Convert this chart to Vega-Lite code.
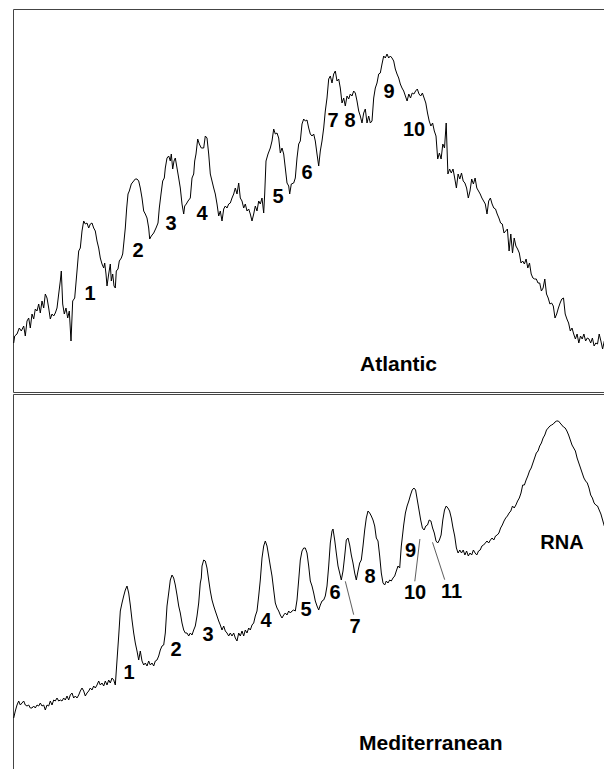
{
  "$schema": "https://vega.github.io/schema/vega-lite/v6.json",
  "padding": {"left": 11, "top": 8, "right": 0, "bottom": 0},
  "spacing": 0,
  "background": "white",
  "config": {
    "view": {"stroke": "#444444", "strokeWidth": 1},
    "concat": {"spacing": 0},
    "text": {"font": "Liberation Sans", "fontWeight": "bold", "fontSize": 20, "color": "#000000"}
  },
  "datasets": {
    "atlantic": [
      {"pos":0.7,"abs":49},{"pos":1.7,"abs":56},{"pos":4,"abs":58},{"pos":6.3,"abs":64},{"pos":8.3,"abs":61},{"pos":10.7,"abs":66},{"pos":12.3,"abs":56},{"pos":14,"abs":71},{"pos":15.7,"abs":74},{"pos":17.3,"abs":64},{"pos":19,"abs":78},{"pos":20.7,"abs":73},{"pos":22.3,"abs":83},{"pos":24,"abs":81},{"pos":25.7,"abs":88},{"pos":27.3,"abs":79},{"pos":29,"abs":91},{"pos":30.7,"abs":84},{"pos":32.3,"abs":98},{"pos":34,"abs":94},{"pos":35.7,"abs":84},{"pos":37.3,"abs":73},{"pos":39,"abs":78},{"pos":40.7,"abs":76},{"pos":42.3,"abs":79},{"pos":44,"abs":84},{"pos":45.7,"abs":98},{"pos":47.3,"abs":111},{"pos":48.3,"abs":121},{"pos":49.7,"abs":88},{"pos":51.3,"abs":78},{"pos":53,"abs":84},{"pos":54.7,"abs":74},{"pos":56.3,"abs":81},{"pos":58,"abs":51},{"pos":59.7,"abs":91},{"pos":61.7,"abs":94},{"pos":64,"abs":121},{"pos":65.7,"abs":141},{"pos":67.3,"abs":144},{"pos":69,"abs":161},{"pos":70.7,"abs":171},{"pos":72.3,"abs":168},{"pos":74,"abs":169},{"pos":75.7,"abs":164},{"pos":77.3,"abs":168},{"pos":79,"abs":169},{"pos":80.7,"abs":164},{"pos":82.3,"abs":161},{"pos":84,"abs":151},{"pos":85.7,"abs":144},{"pos":87.3,"abs":134},{"pos":89,"abs":128},{"pos":90.7,"abs":124},{"pos":91.7,"abs":129},{"pos":93,"abs":118},{"pos":94,"abs":106},{"pos":95.7,"abs":118},{"pos":97.3,"abs":128},{"pos":98.3,"abs":111},{"pos":99.7,"abs":118},{"pos":101,"abs":106},{"pos":102.3,"abs":104},{"pos":103.3,"abs":121},{"pos":105,"abs":123},{"pos":106.3,"abs":131},{"pos":108.3,"abs":134},{"pos":109.7,"abs":138},{"pos":111,"abs":151},{"pos":112.3,"abs":164},{"pos":113.7,"abs":184},{"pos":115,"abs":198},{"pos":116.3,"abs":201},{"pos":118.3,"abs":208},{"pos":120.7,"abs":211},{"pos":122.3,"abs":213},{"pos":124,"abs":213},{"pos":125.7,"abs":211},{"pos":127.3,"abs":204},{"pos":129,"abs":194},{"pos":130.7,"abs":181},{"pos":132.3,"abs":178},{"pos":134,"abs":174},{"pos":135.7,"abs":164},{"pos":136.7,"abs":153},{"pos":138.3,"abs":156},{"pos":140.7,"abs":159},{"pos":143,"abs":164},{"pos":145,"abs":169},{"pos":146.3,"abs":184},{"pos":148,"abs":198},{"pos":149.7,"abs":211},{"pos":151.3,"abs":214},{"pos":152.3,"abs":224},{"pos":154,"abs":234},{"pos":155.7,"abs":236},{"pos":157.3,"abs":231},{"pos":158.3,"abs":238},{"pos":159.7,"abs":223},{"pos":161,"abs":231},{"pos":162.3,"abs":234},{"pos":164,"abs":224},{"pos":165.7,"abs":214},{"pos":167.3,"abs":204},{"pos":169,"abs":188},{"pos":170.7,"abs":178},{"pos":171.7,"abs":186},{"pos":173.3,"abs":188},{"pos":175,"abs":191},{"pos":177.3,"abs":194},{"pos":179,"abs":214},{"pos":180.7,"abs":218},{"pos":181.7,"abs":231},{"pos":183,"abs":238},{"pos":184.7,"abs":253},{"pos":186.3,"abs":248},{"pos":188.3,"abs":244},
      {"pos":190.7,"abs":244},{"pos":192.3,"abs":256},{"pos":194,"abs":254},{"pos":195.7,"abs":238},{"pos":197.3,"abs":218},{"pos":199,"abs":211},{"pos":200.7,"abs":204},{"pos":202.3,"abs":198},{"pos":204,"abs":188},{"pos":205.7,"abs":176},{"pos":207.3,"abs":181},{"pos":209,"abs":171},{"pos":210.7,"abs":183},{"pos":212.3,"abs":186},{"pos":214,"abs":184},{"pos":215.7,"abs":188},{"pos":217.3,"abs":189},{"pos":219,"abs":194},{"pos":220.7,"abs":198},{"pos":222.3,"abs":204},{"pos":224,"abs":198},{"pos":225.7,"abs":209},{"pos":227.3,"abs":194},{"pos":229,"abs":191},{"pos":230.7,"abs":184},{"pos":232.3,"abs":188},{"pos":234,"abs":181},{"pos":235.7,"abs":183},{"pos":237.3,"abs":178},{"pos":239,"abs":171},{"pos":240.7,"abs":178},{"pos":242.3,"abs":186},{"pos":244,"abs":181},{"pos":245.7,"abs":191},{"pos":247.3,"abs":188},{"pos":249,"abs":194},{"pos":250.7,"abs":179},{"pos":251.7,"abs":198},{"pos":253,"abs":231},{"pos":255,"abs":238},{"pos":257.3,"abs":244},{"pos":259,"abs":251},{"pos":260.7,"abs":263},{"pos":262.3,"abs":258},{"pos":264,"abs":259},{"pos":265.7,"abs":254},{"pos":267.3,"abs":239},{"pos":269,"abs":244},{"pos":270.7,"abs":238},{"pos":272.3,"abs":224},{"pos":274,"abs":209},{"pos":275.7,"abs":206},{"pos":276.7,"abs":198},{"pos":278.3,"abs":208},{"pos":280.7,"abs":209},{"pos":282.3,"abs":214},{"pos":284,"abs":234},{"pos":285.7,"abs":248},{"pos":287.3,"abs":251},{"pos":289,"abs":268},{"pos":290.7,"abs":273},{"pos":292.3,"abs":271},{"pos":294,"abs":272},{"pos":295.7,"abs":264},{"pos":297.3,"abs":258},{"pos":299,"abs":256},{"pos":300.7,"abs":258},{"pos":302.3,"abs":251},{"pos":304,"abs":238},{"pos":305.7,"abs":226},{"pos":307.3,"abs":241},{"pos":309,"abs":251},{"pos":310.7,"abs":264},{"pos":312.3,"abs":281},{"pos":314,"abs":294},{"pos":315.7,"abs":313},{"pos":317.3,"abs":316},{"pos":319,"abs":309},{"pos":320.7,"abs":318},{"pos":322.3,"abs":321},{"pos":324,"abs":311},{"pos":325.7,"abs":313},{"pos":327.3,"abs":304},{"pos":329,"abs":289},{"pos":330.7,"abs":294},{"pos":332.3,"abs":286},{"pos":334,"abs":296},{"pos":335.7,"abs":293},{"pos":337.3,"abs":298},{"pos":339,"abs":296},{"pos":340.7,"abs":301},{"pos":342.3,"abs":299},{"pos":344,"abs":291},{"pos":345.7,"abs":281},{"pos":347.3,"abs":276},{"pos":349,"abs":269},{"pos":350.7,"abs":279},{"pos":352.3,"abs":283},{"pos":354,"abs":269},{"pos":355.7,"abs":276},{"pos":357.3,"abs":269},{"pos":359,"abs":271},{"pos":360.7,"abs":294},{"pos":362.3,"abs":304},{"pos":364,"abs":309},{"pos":365.7,"abs":318},{"pos":367.3,"abs":319},{"pos":369,"abs":328},{"pos":370.7,"abs":336},{"pos":372.3,"abs":334},{"pos":374,"abs":338},{"pos":375.7,"abs":334},{"pos":377.3,"abs":336},{"pos":379,"abs":334},{"pos":380.7,"abs":331},{"pos":382.3,"abs":323},{"pos":384,"abs":318},{"pos":385.7,"abs":314},{"pos":387.3,"abs":308},
      {"pos":389,"abs":304},{"pos":390.7,"abs":301},{"pos":392.4,"abs":296},{"pos":394.1,"abs":291},{"pos":395.8,"abs":298},{"pos":397.5,"abs":294},{"pos":399.2,"abs":299},{"pos":400.9,"abs":298},{"pos":402.6,"abs":301},{"pos":404.3,"abs":303},{"pos":406,"abs":298},{"pos":407.7,"abs":296},{"pos":409.4,"abs":299},{"pos":411.1,"abs":294},{"pos":412.8,"abs":289},{"pos":414.5,"abs":279},{"pos":416.2,"abs":271},{"pos":417.9,"abs":266},{"pos":419.6,"abs":269},{"pos":421.3,"abs":261},{"pos":423,"abs":256},{"pos":424.7,"abs":233},{"pos":426.4,"abs":239},{"pos":428.1,"abs":233},{"pos":429.8,"abs":248},{"pos":431.5,"abs":244},{"pos":433.2,"abs":269},{"pos":434.9,"abs":218},{"pos":436.6,"abs":223},{"pos":438.3,"abs":219},{"pos":440,"abs":223},{"pos":441.7,"abs":214},{"pos":443.4,"abs":204},{"pos":445.1,"abs":218},{"pos":446.8,"abs":213},{"pos":448.5,"abs":219},{"pos":450.2,"abs":211},{"pos":451.9,"abs":209},{"pos":453.6,"abs":204},{"pos":455.3,"abs":194},{"pos":457,"abs":201},{"pos":458.7,"abs":213},{"pos":460.4,"abs":208},{"pos":462.1,"abs":214},{"pos":463.8,"abs":204},{"pos":465.5,"abs":201},{"pos":467.2,"abs":198},{"pos":468.9,"abs":194},{"pos":470.6,"abs":191},{"pos":472.3,"abs":188},{"pos":474,"abs":178},{"pos":475.7,"abs":191},{"pos":477.4,"abs":194},{"pos":479.1,"abs":188},{"pos":480.8,"abs":184},{"pos":482.5,"abs":183},{"pos":484.2,"abs":178},{"pos":485.9,"abs":174},{"pos":487.6,"abs":169},{"pos":489.3,"abs":168},{"pos":491,"abs":159},{"pos":492.7,"abs":161},{"pos":494.4,"abs":163},{"pos":496.1,"abs":141},{"pos":497.8,"abs":158},{"pos":499.5,"abs":139},{"pos":501.2,"abs":154},{"pos":502.9,"abs":146},{"pos":504.6,"abs":143},{"pos":506.3,"abs":139},{"pos":508,"abs":129},{"pos":509.7,"abs":131},{"pos":511.4,"abs":128},{"pos":513.1,"abs":133},{"pos":514.8,"abs":124},{"pos":516.5,"abs":129},{"pos":518.2,"abs":118},{"pos":519.9,"abs":114},{"pos":521.6,"abs":113},{"pos":523.3,"abs":113},{"pos":525,"abs":109},{"pos":526.7,"abs":109},{"pos":528.4,"abs":101},{"pos":530.1,"abs":104},{"pos":531.8,"abs":113},{"pos":533.5,"abs":98},{"pos":535.2,"abs":94},{"pos":536.9,"abs":88},{"pos":538.6,"abs":89},{"pos":540.3,"abs":86},{"pos":542,"abs":74},{"pos":543.7,"abs":78},{"pos":545.4,"abs":84},{"pos":547.1,"abs":89},{"pos":548.8,"abs":93},{"pos":550.5,"abs":94},{"pos":552.2,"abs":78},{"pos":553.9,"abs":73},{"pos":555.6,"abs":69},{"pos":557.3,"abs":61},{"pos":559,"abs":64},{"pos":560.7,"abs":58},{"pos":562.4,"abs":53},{"pos":564.1,"abs":58},{"pos":565.8,"abs":49},{"pos":567.5,"abs":56},{"pos":569.2,"abs":53},{"pos":570.9,"abs":58},{"pos":572.6,"abs":51},{"pos":574.3,"abs":54},{"pos":576,"abs":53},{"pos":577.7,"abs":49},{"pos":579.4,"abs":54},{"pos":581.1,"abs":46},{"pos":582.8,"abs":49},{"pos":584.5,"abs":48},{"pos":586.2,"abs":58},{"pos":587.9,"abs":51},{"pos":589.6,"abs":43},{"pos":591.3,"abs":51}
    ],
    "med": [
      {"pos":0.7,"abs":56},{"pos":2.3,"abs":63},{"pos":4,"abs":69},{"pos":5.7,"abs":73},{"pos":7.3,"abs":69},{"pos":9,"abs":71},{"pos":10.7,"abs":73},{"pos":12.3,"abs":69},{"pos":14,"abs":68},{"pos":15.7,"abs":69},{"pos":17.3,"abs":66},{"pos":19,"abs":66},{"pos":20.7,"abs":68},{"pos":22.3,"abs":66},{"pos":24,"abs":69},{"pos":25.7,"abs":68},{"pos":27.3,"abs":71},{"pos":29,"abs":68},{"pos":30.7,"abs":69},{"pos":32.3,"abs":64},{"pos":34,"abs":69},{"pos":35.7,"abs":68},{"pos":37.3,"abs":73},{"pos":39,"abs":69},{"pos":40.7,"abs":74},{"pos":42.3,"abs":73},{"pos":44,"abs":76},{"pos":45.7,"abs":73},{"pos":47.3,"abs":74},{"pos":49,"abs":73},{"pos":50.7,"abs":76},{"pos":52.3,"abs":74},{"pos":54,"abs":78},{"pos":55.7,"abs":74},{"pos":57.3,"abs":79},{"pos":59,"abs":81},{"pos":60.7,"abs":76},{"pos":62.3,"abs":78},{"pos":64,"abs":76},{"pos":65.7,"abs":79},{"pos":67.3,"abs":83},{"pos":69,"abs":86},{"pos":70.7,"abs":83},{"pos":72.3,"abs":78},{"pos":74,"abs":81},{"pos":75.7,"abs":83},{"pos":77.3,"abs":86},{"pos":79,"abs":84},{"pos":80.7,"abs":88},{"pos":82.3,"abs":86},{"pos":84,"abs":89},{"pos":85.7,"abs":93},{"pos":87.3,"abs":89},{"pos":89,"abs":91},{"pos":90.7,"abs":88},{"pos":92.3,"abs":93},{"pos":94,"abs":89},{"pos":95.7,"abs":94},{"pos":97.3,"abs":91},{"pos":99,"abs":96},{"pos":100.7,"abs":94},{"pos":102.3,"abs":89},{"pos":103,"abs":99},{"pos":104.3,"abs":118},{"pos":105.7,"abs":138},{"pos":107.3,"abs":163},{"pos":109,"abs":171},{"pos":110.7,"abs":178},{"pos":112.3,"abs":184},{"pos":114,"abs":188},{"pos":115.7,"abs":181},{"pos":117.3,"abs":169},{"pos":119,"abs":154},{"pos":120.7,"abs":141},{"pos":122.3,"abs":131},{"pos":124,"abs":123},{"pos":125.7,"abs":114},{"pos":127.3,"abs":123},{"pos":129,"abs":113},{"pos":130.7,"abs":109},{"pos":132.3,"abs":111},{"pos":134,"abs":108},{"pos":135.7,"abs":113},{"pos":137.3,"abs":109},{"pos":139,"abs":111},{"pos":140.7,"abs":108},{"pos":142.3,"abs":113},{"pos":144,"abs":114},{"pos":145.7,"abs":118},{"pos":147.3,"abs":124},{"pos":149,"abs":128},{"pos":150.7,"abs":129},{"pos":152.3,"abs":141},{"pos":154,"abs":168},{"pos":155.7,"abs":181},{"pos":157.3,"abs":194},{"pos":159,"abs":199},{"pos":160.7,"abs":196},{"pos":162.3,"abs":189},{"pos":164,"abs":179},{"pos":165.7,"abs":168},{"pos":167.3,"abs":161},{"pos":169,"abs":151},{"pos":170.7,"abs":144},{"pos":172.3,"abs":141},{"pos":174,"abs":141},{"pos":175.7,"abs":138},{"pos":177.3,"abs":141},{"pos":179,"abs":139},{"pos":180.7,"abs":144},{"pos":182.3,"abs":148},{"pos":184,"abs":158},{"pos":185.7,"abs":171},{"pos":187.3,"abs":191},{"pos":188.3,"abs":196},
      {"pos":189,"abs":208},{"pos":190.7,"abs":214},{"pos":192.3,"abs":213},{"pos":194,"abs":206},{"pos":195.7,"abs":194},{"pos":197.3,"abs":183},{"pos":199,"abs":174},{"pos":200.7,"abs":168},{"pos":202.3,"abs":163},{"pos":204,"abs":158},{"pos":205.7,"abs":153},{"pos":207.3,"abs":149},{"pos":209,"abs":144},{"pos":210.7,"abs":148},{"pos":212.3,"abs":143},{"pos":214,"abs":141},{"pos":215.7,"abs":138},{"pos":217.3,"abs":141},{"pos":219,"abs":138},{"pos":220.7,"abs":141},{"pos":222.3,"abs":136},{"pos":224,"abs":133},{"pos":225.7,"abs":141},{"pos":227.3,"abs":138},{"pos":229,"abs":143},{"pos":230.7,"abs":138},{"pos":232.3,"abs":144},{"pos":234,"abs":141},{"pos":235.7,"abs":146},{"pos":237.3,"abs":144},{"pos":239,"abs":149},{"pos":240.7,"abs":151},{"pos":242.3,"abs":158},{"pos":244,"abs":163},{"pos":245.7,"abs":178},{"pos":247.3,"abs":194},{"pos":249,"abs":216},{"pos":250.7,"abs":228},{"pos":252.3,"abs":233},{"pos":254,"abs":228},{"pos":255.7,"abs":218},{"pos":257.3,"abs":208},{"pos":259,"abs":198},{"pos":260.7,"abs":184},{"pos":262.3,"abs":171},{"pos":264,"abs":166},{"pos":265.7,"abs":163},{"pos":267.3,"abs":159},{"pos":269,"abs":156},{"pos":270.7,"abs":159},{"pos":272.3,"abs":161},{"pos":274,"abs":159},{"pos":275.7,"abs":163},{"pos":277.3,"abs":161},{"pos":279,"abs":163},{"pos":280.7,"abs":164},{"pos":282.3,"abs":163},{"pos":284,"abs":174},{"pos":285.7,"abs":194},{"pos":287.3,"abs":214},{"pos":289,"abs":223},{"pos":290.7,"abs":226},{"pos":292.3,"abs":226},{"pos":294,"abs":221},{"pos":295.7,"abs":208},{"pos":297.3,"abs":193},{"pos":299,"abs":188},{"pos":300.7,"abs":181},{"pos":302.3,"abs":173},{"pos":304,"abs":168},{"pos":305.7,"abs":164},{"pos":307.3,"abs":169},{"pos":309,"abs":173},{"pos":310.7,"abs":174},{"pos":312.3,"abs":178},{"pos":314,"abs":188},{"pos":315.7,"abs":208},{"pos":317.3,"abs":231},{"pos":319,"abs":243},{"pos":320,"abs":245},{"pos":321.7,"abs":234},{"pos":323.3,"abs":221},{"pos":325,"abs":208},{"pos":326.7,"abs":201},{"pos":328.3,"abs":194},{"pos":330,"abs":203},{"pos":331.7,"abs":218},{"pos":333.3,"abs":234},{"pos":335,"abs":236},{"pos":336.7,"abs":229},{"pos":338.3,"abs":219},{"pos":340,"abs":211},{"pos":341.7,"abs":201},{"pos":343.3,"abs":194},{"pos":345,"abs":203},{"pos":346.7,"abs":211},{"pos":348.3,"abs":214},{"pos":350,"abs":228},{"pos":351.7,"abs":244},{"pos":353.3,"abs":256},{"pos":355,"abs":263},{"pos":356.7,"abs":261},{"pos":358.3,"abs":258},{"pos":360,"abs":254},{"pos":361.7,"abs":248},{"pos":363.3,"abs":236},{"pos":365,"abs":233},{"pos":366.7,"abs":218},{"pos":368.3,"abs":201},{"pos":370,"abs":191},{"pos":371.7,"abs":189},{"pos":373.3,"abs":193},{"pos":375,"abs":191},{"pos":376.7,"abs":194},{"pos":378.3,"abs":193},{"pos":380,"abs":196},{"pos":381.7,"abs":198},{"pos":383.3,"abs":203},{"pos":385,"abs":208},{"pos":386.7,"abs":206},{"pos":388.3,"abs":228},
      {"pos":389,"abs":234},{"pos":390.7,"abs":249},{"pos":392.4,"abs":261},{"pos":394.1,"abs":268},{"pos":395.8,"abs":273},{"pos":397.5,"abs":279},{"pos":399.2,"abs":284},{"pos":400.9,"abs":286},{"pos":402.6,"abs":284},{"pos":404.3,"abs":274},{"pos":406,"abs":264},{"pos":407.7,"abs":254},{"pos":409.4,"abs":246},{"pos":411.1,"abs":244},{"pos":412.8,"abs":248},{"pos":414.5,"abs":249},{"pos":416.2,"abs":254},{"pos":417.9,"abs":253},{"pos":419.6,"abs":246},{"pos":421.3,"abs":241},{"pos":423,"abs":233},{"pos":424.7,"abs":231},{"pos":426.4,"abs":234},{"pos":428.1,"abs":239},{"pos":429.8,"abs":254},{"pos":431.5,"abs":264},{"pos":433.2,"abs":268},{"pos":434.9,"abs":266},{"pos":436.6,"abs":263},{"pos":438.3,"abs":256},{"pos":440,"abs":246},{"pos":441.7,"abs":238},{"pos":443.4,"abs":226},{"pos":445.1,"abs":221},{"pos":446.8,"abs":224},{"pos":448.5,"abs":221},{"pos":450.2,"abs":224},{"pos":451.9,"abs":219},{"pos":453.6,"abs":223},{"pos":455.3,"abs":218},{"pos":457,"abs":221},{"pos":458.7,"abs":219},{"pos":460.4,"abs":224},{"pos":462.1,"abs":221},{"pos":463.8,"abs":219},{"pos":465.5,"abs":223},{"pos":467.2,"abs":224},{"pos":468.9,"abs":228},{"pos":470.6,"abs":229},{"pos":472.3,"abs":231},{"pos":474,"abs":233},{"pos":475.7,"abs":231},{"pos":477.4,"abs":234},{"pos":479.1,"abs":236},{"pos":480.8,"abs":234},{"pos":482.5,"abs":238},{"pos":484.2,"abs":239},{"pos":485.9,"abs":241},{"pos":487.6,"abs":246},{"pos":489.3,"abs":249},{"pos":491,"abs":253},{"pos":492.7,"abs":256},{"pos":494.4,"abs":258},{"pos":496.1,"abs":261},{"pos":497.8,"abs":263},{"pos":499.5,"abs":268},{"pos":501.2,"abs":266},{"pos":502.9,"abs":269},{"pos":504.6,"abs":273},{"pos":506.3,"abs":276},{"pos":508,"abs":281},{"pos":509.7,"abs":289},{"pos":511.4,"abs":289},{"pos":513.1,"abs":294},{"pos":514.8,"abs":298},{"pos":516.5,"abs":303},{"pos":518.2,"abs":306},{"pos":519.9,"abs":311},{"pos":521.6,"abs":316},{"pos":523.3,"abs":321},{"pos":525,"abs":323},{"pos":526.7,"abs":328},{"pos":528.4,"abs":331},{"pos":530.1,"abs":336},{"pos":531.8,"abs":339},{"pos":533.5,"abs":344},{"pos":535.2,"abs":346},{"pos":536.9,"abs":348},{"pos":538.6,"abs":349},{"pos":540.3,"abs":350},{"pos":542,"abs":352},{"pos":543.7,"abs":353},{"pos":545.4,"abs":353},{"pos":547.1,"abs":351},{"pos":548.8,"abs":349},{"pos":550.5,"abs":347},{"pos":552.2,"abs":346},{"pos":553.9,"abs":343},{"pos":555.6,"abs":339},{"pos":557.3,"abs":334},{"pos":559,"abs":329},{"pos":560.7,"abs":326},{"pos":562.4,"abs":323},{"pos":564.1,"abs":316},{"pos":565.8,"abs":311},{"pos":567.5,"abs":306},{"pos":569.2,"abs":301},{"pos":570.9,"abs":296},{"pos":572.6,"abs":293},{"pos":574.3,"abs":291},{"pos":576,"abs":286},{"pos":577.7,"abs":279},{"pos":579.4,"abs":276},{"pos":581.1,"abs":271},{"pos":582.8,"abs":269},{"pos":584.5,"abs":268},{"pos":586.2,"abs":264},{"pos":587.9,"abs":260},{"pos":589.6,"abs":254},{"pos":591.3,"abs":248}
    ],
    "atlLabels": [
      {"label":"1","pos":77,"abs":98},{"label":"2","pos":125,"abs":141},{"label":"3","pos":158,"abs":168},{"label":"4","pos":189,"abs":178},{"label":"5","pos":265,"abs":195},{"label":"6","pos":294,"abs":219},{"label":"7","pos":320,"abs":271},{"label":"8","pos":337,"abs":271},{"label":"9","pos":376,"abs":300},{"label":"10","pos":401,"abs":262}
    ],
    "medLabels": [
      {"label":"1","pos":116,"abs":101},{"label":"2","pos":163,"abs":124},{"label":"3","pos":195,"abs":139},{"label":"4","pos":253,"abs":153},{"label":"5","pos":293,"abs":164},{"label":"6","pos":322,"abs":181},{"label":"7","pos":342,"abs":147},{"label":"8","pos":357,"abs":197},{"label":"9","pos":397.5,"abs":223},{"label":"10","pos":402,"abs":181},{"label":"11","pos":438.5,"abs":182},{"label":"RNA","pos":549,"abs":231}
    ],
    "medLeaders": [
      {"pos":332.3,"abs":192.7,"pos2":340.7,"abs2":159.3},
      {"pos":406.9,"abs":235,"pos2":401.8,"abs2":192.7},
      {"pos":419.5,"abs":231.7,"pos2":431.7,"abs2":194.3}
    ]
  },
  "vconcat": [
    {
      "width": 592,
      "height": 383,
      "layer": [
        {
          "data": {"name": "atlantic"},
          "mark": {"type": "line", "color": "#000000", "strokeWidth": 1, "interpolate": "linear"},
          "encoding": {
            "x": {"field": "pos", "type": "quantitative", "axis": null, "scale": {"domain": [0, 592], "nice": false, "zero": false}},
            "y": {"field": "abs", "type": "quantitative", "axis": null, "scale": {"domain": [0, 383], "nice": false, "zero": false}}
          }
        },
        {
          "data": {"name": "atlLabels"},
          "mark": {"type": "text", "align": "center", "baseline": "middle"},
          "encoding": {
            "x": {"field": "pos", "type": "quantitative"},
            "y": {"field": "abs", "type": "quantitative"},
            "text": {"field": "label"}
          }
        },
        {
          "data": {"values": [{"label": "Atlantic", "pos": 347, "abs": 27}]},
          "mark": {"type": "text", "align": "left", "baseline": "middle", "fontSize": 21},
          "encoding": {
            "x": {"field": "pos", "type": "quantitative"},
            "y": {"field": "abs", "type": "quantitative"},
            "text": {"field": "label"}
          }
        }
      ]
    },
    {
      "width": 592,
      "height": 380,
      "layer": [
        {
          "data": {"name": "med"},
          "mark": {"type": "line", "color": "#000000", "strokeWidth": 1, "interpolate": "linear"},
          "encoding": {
            "x": {"field": "pos", "type": "quantitative", "axis": null, "scale": {"domain": [0, 592], "nice": false, "zero": false}},
            "y": {"field": "abs", "type": "quantitative", "axis": null, "scale": {"domain": [0, 380], "nice": false, "zero": false}}
          }
        },
        {
          "data": {"name": "medLeaders"},
          "mark": {"type": "rule", "color": "#333333", "strokeWidth": 0.8},
          "encoding": {
            "x": {"field": "pos", "type": "quantitative"},
            "y": {"field": "abs", "type": "quantitative"},
            "x2": {"field": "pos2"},
            "y2": {"field": "abs2"}
          }
        },
        {
          "data": {"name": "medLabels"},
          "mark": {"type": "text", "align": "center", "baseline": "middle"},
          "encoding": {
            "x": {"field": "pos", "type": "quantitative"},
            "y": {"field": "abs", "type": "quantitative"},
            "text": {"field": "label"}
          }
        },
        {
          "data": {"values": [{"label": "Mediterranean", "pos": 346, "abs": 30}]},
          "mark": {"type": "text", "align": "left", "baseline": "middle", "fontSize": 21},
          "encoding": {
            "x": {"field": "pos", "type": "quantitative"},
            "y": {"field": "abs", "type": "quantitative"},
            "text": {"field": "label"}
          }
        }
      ]
    }
  ]
}
